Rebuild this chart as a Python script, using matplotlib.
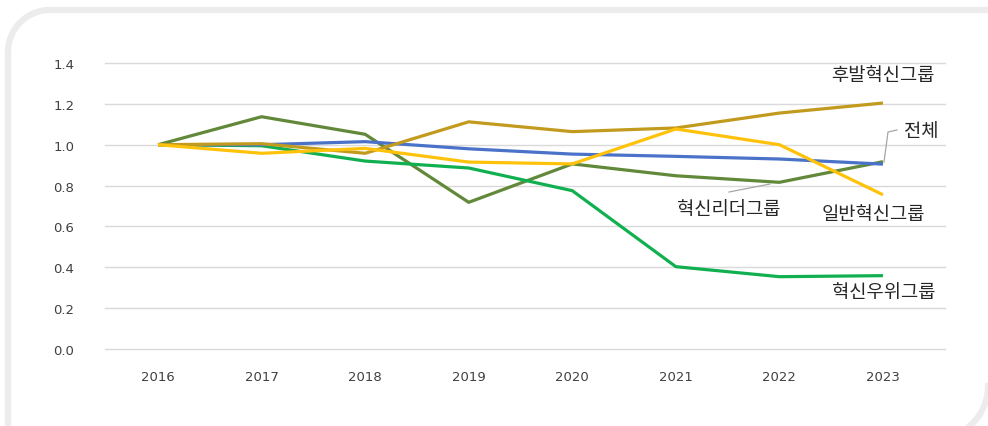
import matplotlib
matplotlib.use("Agg")
import matplotlib.pyplot as plt
import numpy as np

plt.rcParams['font.family'] = ['Noto Sans CJK KR', 'DejaVu Sans']

years = [2016, 2017, 2018, 2019, 2020, 2021, 2022, 2023]
total = [1.00, 1.00, 1.015, 0.98, 0.954, 0.943, 0.93, 0.905]          # 전체
late = [1.00, 1.005, 0.958, 1.112, 1.064, 1.082, 1.155, 1.204]        # 후발혁신그룹
general = [1.00, 0.958, 0.982, 0.915, 0.906, 1.077, 1.00, 0.755]      # 일반혁신그룹
leader = [1.00, 1.137, 1.051, 0.718, 0.906, 0.848, 0.816, 0.917]      # 혁신리더그룹
superior = [1.00, 0.995, 0.92, 0.886, 0.775, 0.403, 0.354, 0.359]     # 혁신우위그룹
yticks = [0.0, 0.2, 0.4, 0.6, 0.8, 1.0, 1.2, 1.4]

W, H = 988, 427
fig = plt.figure(figsize=(W / 100, H / 100), dpi=100)

# overlay in pixel coordinates for frame
bg = fig.add_axes([0, 0, 1, 1], zorder=-5)
bg.set_xlim(0, W)
bg.set_ylim(H, 0)
bg.axis('off')
fc = '#ECECEC'
r = 42
t = np.linspace(np.pi, 1.5 * np.pi, 40)
cx, cy = 8 + r, 11 + r
xs = np.concatenate([[8], cx + r * np.cos(t), [W + 5]])
ys = np.concatenate([[H + 5], cy + r * np.sin(t), [11]])
bg.plot(xs, ys, color=fc, lw=4.5, solid_capstyle='butt')
R = 53
t2 = np.linspace(0, 0.5 * np.pi, 40)
bg.plot(935 + R * np.cos(t2), 387 + R * np.sin(t2), color=fc, lw=4.5)

ax = fig.add_axes([105 / W, 1 - 350 / H, (945 - 105) / W, (350 - 64) / H])
ax.set_facecolor('none')

ax.plot(years, leader, color='#62883A', lw=2.3, zorder=3, solid_capstyle='butt')
ax.plot(years, superior, color='#10B050', lw=2.3, zorder=3, solid_capstyle='butt')
ax.plot(years, total, color='#4A72C8', lw=2.3, zorder=4, solid_capstyle='butt')
ax.plot(years, late, color='#C29A1E', lw=2.3, zorder=5, solid_capstyle='butt')
ax.plot(years, general, color='#FFC20A', lw=2.3, zorder=6, solid_capstyle='butt')

ax.set_xlim(2015.488, 2023.599)
ax.set_ylim(0, 1.4)
ax.set_yticks(yticks)
ax.set_yticklabels([f"{v:.1f}" for v in yticks])
ax.set_xticks(years)
ax.set_xticklabels([str(y) for y in years])
ax.grid(axis='y', color='#D9D9D9', lw=1)
for gl in ax.get_ygridlines():
    gl.set_clip_on(False)
ax.set_axisbelow(True)
for s in ax.spines.values():
    s.set_visible(False)
ax.tick_params(axis='both', length=0, colors='#404040')
ax.tick_params(axis='y', pad=22)
ax.tick_params(axis='x', pad=15)
for lab in ax.get_xticklabels() + ax.get_yticklabels():
    lab.set_family(['DejaVu Sans'])
    lab.set_fontsize(9.5)

def px(x, y):
    return (x / W, 1 - y / H)

lab_kw = dict(transform=fig.transFigure, fontsize=13.5, color='#262626',
              ha='center', va='center')
fig.text(*px(883, 76), '후발혁신그룹', **lab_kw)
fig.text(*px(921, 131), '전체', **lab_kw)
fig.text(*px(729, 210), '혁신리더그룹', **lab_kw)
fig.text(*px(873, 215), '일반혁신그룹', **lab_kw)
fig.text(*px(884, 293), '혁신우위그룹', **lab_kw)

# leader lines (pixel coords)
ov = fig.add_axes([0, 0, 1, 1], zorder=10)
ov.set_xlim(0, W)
ov.set_ylim(H, 0)
ov.axis('off')
ov.plot([884, 888, 897], [163, 133, 131], color='#A6A6A6', lw=0.9)
ov.plot([729, 770], [193, 185], color='#A6A6A6', lw=0.9)

fig.savefig('out.png', dpi=100)
